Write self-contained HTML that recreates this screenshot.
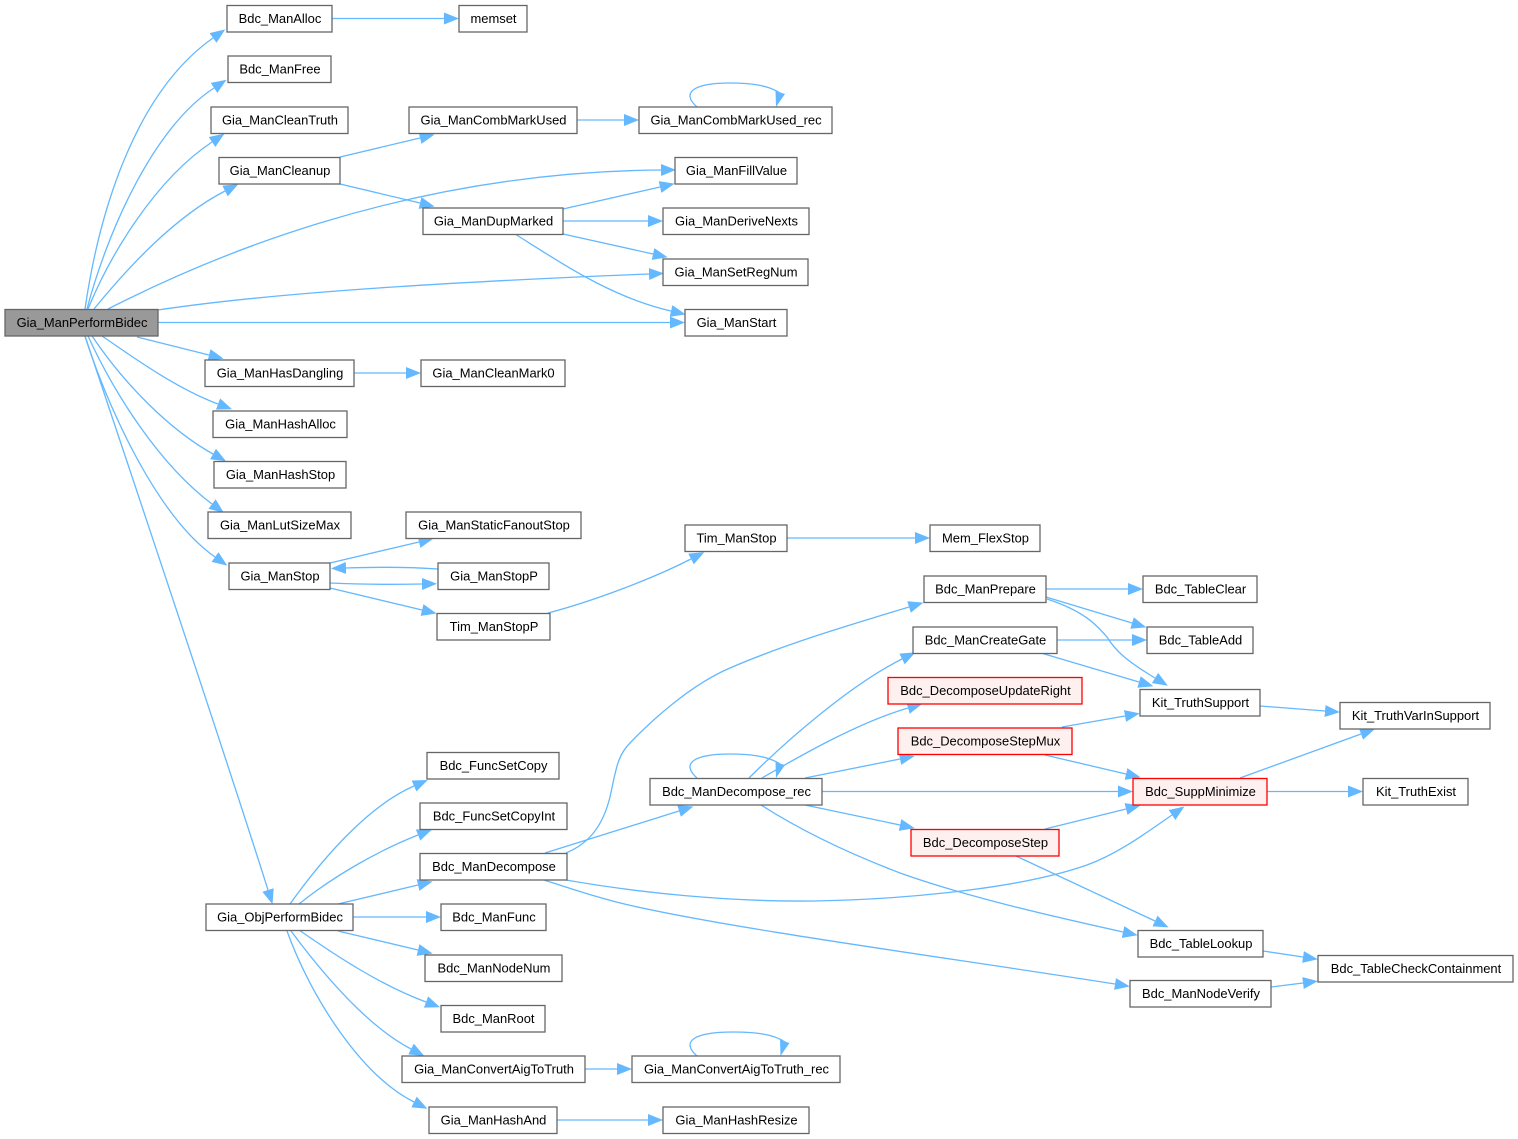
<!DOCTYPE html>
<html><head><meta charset="utf-8"><style>
html,body{margin:0;padding:0;background:#fff}
svg{display:block}
.e path{fill:none;stroke:#63b8ff;stroke-width:1.3;marker-end:url(#a)}
.e path.n{marker-end:none}
.e polygon{fill:#63b8ff}
rect{fill:#fff;stroke:#666;stroke-width:1.3}
rect.r{fill:#fff0f0;stroke:#f00}
rect.g{fill:#999}
text{font-family:"Liberation Sans",Arial,sans-serif;font-size:12.95px;fill:#000;text-anchor:middle;transform:translateX(.5px)}
</style></head><body>
<svg width="1518" height="1139" viewBox="0 0 1518 1139" xmlns="http://www.w3.org/2000/svg">
<defs><marker id="a" markerUnits="userSpaceOnUse" markerWidth="16" markerHeight="13" refX="0" refY="6" orient="auto"><path d="M0,0 L15,6 L0,12 Z" fill="#63b8ff"/></marker></defs>
<g class="e">
<path d="M85,309 C95,240 125,100 213,38"/>
<path d="M87,309 C105,240 150,130 214,88"/>
<path d="M88,309 C110,255 155,180 212,142"/>
<path d="M94,309 C130,265 175,217 225,191"/>
<path d="M108,309 C200,262 400,172 661,170"/>
<path d="M158,310 C290,290 500,280 649,274"/>
<path d="M158,322.500 L670,322.500"/>
<path d="M137,337 L209,355"/>
<path d="M102,336 C130,355 175,388 218,404"/>
<path d="M92,336 C125,385 170,430 213,454"/>
<path d="M88,336 C115,395 160,465 212,504"/>
<path d="M85,336 C105,400 155,515 215,557"/>
<path d="M85,336 C113,420 220,738 268,890"/>
<path d="M332,18.500 L444,18.500"/>
<path d="M340,157 L420,138"/>
<path d="M340,184 L420,203"/>
<path d="M577,120 L624,120"/>
<path class="n" d="M697,107 C680,92 695,83 730,83 C750,83 768,85 780,93"/>
<polygon points="775.500,91 785,94 776,107"/>
<path d="M563,209 L660,187"/>
<path d="M563,221 L648,221"/>
<path d="M563,234 L653,254"/>
<path d="M515,234 C560,262 610,297 671,311"/>
<path d="M354,373 L406,373"/>
<path d="M330,563 L419,542"/>
<path d="M438,569 C410,567 375,567 346,568"/>
<path d="M330,583 C360,584.500 395,584.500 422,584"/>
<path d="M330,588 L422,610"/>
<path d="M548,613 C590,602 650,580 691,559"/>
<path d="M787,538 L915,538"/>
<path d="M1046,589 L1128,589"/>
<path d="M1046,597 L1132,623"/>
<path d="M1047,599 C1090,613 1100,630 1107,637 C1115,650 1125,660 1155,678"/>
<path d="M1057,640 L1132,640"/>
<path d="M1041,653 L1139,682"/>
<path d="M1062,727 L1125,716"/>
<path d="M1045,755 L1126,774"/>
<path d="M1260,706 L1325,711"/>
<path d="M1240,778 L1361,734"/>
<path d="M1267,791.500 L1348,791.500"/>
<path d="M822,791.500 L1118,791.500"/>
<path d="M749,778 C785,742 850,685 902,659"/>
<path d="M762,778 C805,753 860,722 908,708"/>
<path d="M805,778 L900,759"/>
<path d="M805,805 L900,825"/>
<path d="M761,805 C800,830 845,852 900,873 C970,898 1060,918 1123,932"/>
<path class="n" d="M697,778 C680,763 695,754 730,754 C750,754 768,756 780,764"/>
<polygon points="775.500,762 785,765 776,778"/>
<path d="M1045,829 L1126,809"/>
<path d="M1016,856 L1155,921"/>
<path d="M1263,951 L1303,957"/>
<path d="M1271,987 L1303,983"/>
<path d="M545,853 L679,811"/>
<path d="M566,853 C590,843 603,825 610,797 C616,770 617,756 630,743 C650,722 690,685 730,668 C790,642 860,622 909,607"/>
<path d="M566,880 C640,893 730,902 814,901 C880,900 1010,892 1087,865 C1120,853 1150,830 1172,815"/>
<path d="M544,880 C575,890 605,900 633,906 C740,930 950,958 1115,984"/>
<path d="M290,904 C325,855 370,805 414,786"/>
<path d="M299,904 C335,875 380,850 418,835"/>
<path d="M338,904 L418,885"/>
<path d="M353,917 L426,917"/>
<path d="M338,931 L418,950"/>
<path d="M299,930 C335,955 380,985 426,1002"/>
<path d="M291,931 C320,970 365,1025 411,1049"/>
<path d="M287,931 C310,995 360,1075 414,1102"/>
<path d="M585,1069 L617,1069"/>
<path class="n" d="M697,1056 C680,1041 695,1032 733,1032 C755,1032 773,1034 785,1042"/>
<polygon points="780,1040 789.500,1043 780.500,1056"/>
<path d="M557,1120 L648,1120"/>
</g>
<g>
<rect class="g" x="5" y="309.500" width="153" height="26.500"/><text x="81.500" y="327">Gia_ManPerformBidec</text>
<rect x="227" y="5.500" width="105" height="26.500"/><text x="279.500" y="23">Bdc_ManAlloc</text>
<rect x="459" y="5.500" width="68" height="26.500"/><text x="493" y="23">memset</text>
<rect x="228" y="56" width="103" height="26.500"/><text x="279.500" y="73.500">Bdc_ManFree</text>
<rect x="211" y="107" width="137" height="26.500"/><text x="279.500" y="124.500">Gia_ManCleanTruth</text>
<rect x="219" y="157.500" width="121" height="26.500"/><text x="279.500" y="175">Gia_ManCleanup</text>
<rect x="409" y="107" width="168" height="26.500"/><text x="493" y="124.500">Gia_ManCombMarkUsed</text>
<rect x="639" y="107" width="193" height="26.500"/><text x="735.500" y="124.500">Gia_ManCombMarkUsed_rec</text>
<rect x="675" y="157.500" width="122" height="26.500"/><text x="736" y="175">Gia_ManFillValue</text>
<rect x="423" y="208" width="140" height="26.500"/><text x="493" y="225.500">Gia_ManDupMarked</text>
<rect x="663" y="208" width="146" height="26.500"/><text x="736" y="225.500">Gia_ManDeriveNexts</text>
<rect x="663" y="259" width="145" height="26.500"/><text x="735.500" y="276.500">Gia_ManSetRegNum</text>
<rect x="685" y="309.500" width="102" height="26.500"/><text x="736" y="327">Gia_ManStart</text>
<rect x="205" y="360" width="149" height="26.500"/><text x="279.500" y="377.500">Gia_ManHasDangling</text>
<rect x="421" y="360" width="144" height="26.500"/><text x="493" y="377.500">Gia_ManCleanMark0</text>
<rect x="213" y="411" width="134" height="26.500"/><text x="280" y="428.500">Gia_ManHashAlloc</text>
<rect x="214" y="461.500" width="132" height="26.500"/><text x="280" y="479">Gia_ManHashStop</text>
<rect x="208" y="512" width="143" height="26.500"/><text x="279.500" y="529.500">Gia_ManLutSizeMax</text>
<rect x="406" y="512" width="175" height="26.500"/><text x="493.500" y="529.500">Gia_ManStaticFanoutStop</text>
<rect x="229" y="563" width="101" height="26.500"/><text x="279.500" y="580.500">Gia_ManStop</text>
<rect x="438" y="563" width="111" height="26.500"/><text x="493.500" y="580.500">Gia_ManStopP</text>
<rect x="437" y="613.500" width="113" height="26.500"/><text x="493.500" y="631">Tim_ManStopP</text>
<rect x="685" y="525" width="102" height="26.500"/><text x="736" y="542.500">Tim_ManStop</text>
<rect x="930" y="525" width="110" height="26.500"/><text x="985" y="542.500">Mem_FlexStop</text>
<rect x="924" y="576" width="122" height="26.500"/><text x="985" y="593.500">Bdc_ManPrepare</text>
<rect x="1143" y="576" width="114" height="26.500"/><text x="1200" y="593.500">Bdc_TableClear</text>
<rect x="1147" y="627" width="106" height="26.500"/><text x="1200" y="644.500">Bdc_TableAdd</text>
<rect x="913" y="627" width="144" height="26.500"/><text x="985" y="644.500">Bdc_ManCreateGate</text>
<rect class="r" x="888" y="677.500" width="194" height="26.500"/><text x="985" y="695">Bdc_DecomposeUpdateRight</text>
<rect x="1140" y="689.500" width="120" height="26.500"/><text x="1200" y="707">Kit_TruthSupport</text>
<rect x="1340" y="702.500" width="150" height="26.500"/><text x="1415" y="720">Kit_TruthVarInSupport</text>
<rect class="r" x="898" y="728" width="174" height="26.500"/><text x="985" y="745.500">Bdc_DecomposeStepMux</text>
<rect class="r" x="1133" y="778.500" width="134" height="26.500"/><text x="1200" y="796">Bdc_SuppMinimize</text>
<rect x="1363" y="778.500" width="105" height="26.500"/><text x="1415.500" y="796">Kit_TruthExist</text>
<rect x="650" y="778.500" width="172" height="26.500"/><text x="736" y="796">Bdc_ManDecompose_rec</text>
<rect class="r" x="911" y="829.500" width="148" height="26.500"/><text x="985" y="847">Bdc_DecomposeStep</text>
<rect x="427" y="752.500" width="132" height="26.500"/><text x="493" y="770">Bdc_FuncSetCopy</text>
<rect x="420" y="803" width="147" height="26.500"/><text x="493.500" y="820.500">Bdc_FuncSetCopyInt</text>
<rect x="420" y="853.500" width="147" height="26.500"/><text x="493.500" y="871">Bdc_ManDecompose</text>
<rect x="441" y="904" width="105" height="26.500"/><text x="493.500" y="921.500">Bdc_ManFunc</text>
<rect x="425" y="955" width="137" height="26.500"/><text x="493.500" y="972.500">Bdc_ManNodeNum</text>
<rect x="441" y="1005.500" width="104" height="26.500"/><text x="493" y="1023">Bdc_ManRoot</text>
<rect x="402" y="1056" width="183" height="26.500"/><text x="493.500" y="1073.500">Gia_ManConvertAigToTruth</text>
<rect x="632" y="1056" width="208" height="26.500"/><text x="736" y="1073.500">Gia_ManConvertAigToTruth_rec</text>
<rect x="429" y="1107" width="128" height="26.500"/><text x="493" y="1124.500">Gia_ManHashAnd</text>
<rect x="663" y="1107" width="146" height="26.500"/><text x="736" y="1124.500">Gia_ManHashResize</text>
<rect x="206" y="904" width="147" height="26.500"/><text x="279.500" y="921.500">Gia_ObjPerformBidec</text>
<rect x="1138" y="930.500" width="125" height="26.500"/><text x="1200.500" y="948">Bdc_TableLookup</text>
<rect x="1318" y="955.500" width="195" height="26.500"/><text x="1415.500" y="973">Bdc_TableCheckContainment</text>
<rect x="1130" y="980.500" width="141" height="26.500"/><text x="1200.500" y="998">Bdc_ManNodeVerify</text>
</g>
</svg>
</body></html>
